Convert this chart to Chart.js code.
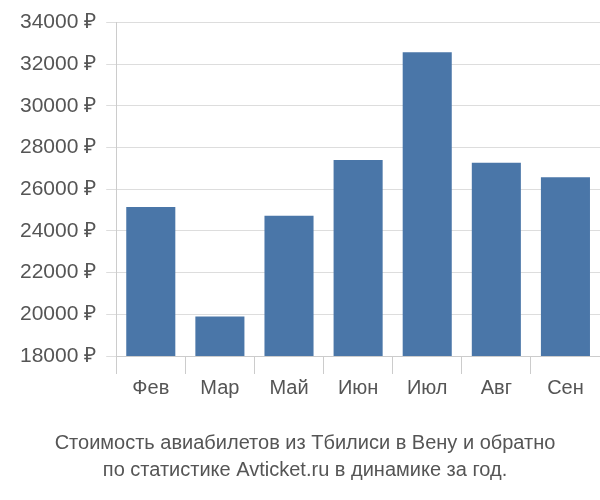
<!DOCTYPE html>
<html>
<head>
<meta charset="utf-8">
<script src="https://cdn.jsdelivr.net/npm/chart.js@4"></script>
<style>
  html, body { margin: 0; padding: 0; background: #fff; }
  #wrap { width: 600px; height: 500px; }
</style>
</head>
<body>
<div id="wrap"><canvas id="chart"></canvas></div>
<script>
// Данные графика
const months = ['Фев', 'Мар', 'Май', 'Июн', 'Июл', 'Авг', 'Сен'];
const prices = [25150, 19890, 24730, 27410, 32575, 27270, 26580];
const yTicks = [18000, 20000, 22000, 24000, 26000, 28000, 30000, 32000, 34000];

Chart.defaults.font.family = '"Liberation Sans", Arial, sans-serif';
Chart.defaults.color = '#555';

new Chart(document.getElementById('chart').getContext('2d'), {
    type: 'bar',
    data: {
        labels: months,
        datasets: [{
            data: prices,
            backgroundColor: '#4a76a8',
            barPercentage: 0.71,
            categoryPercentage: 1
        }]
    },
    options: {
        responsive: true,
        maintainAspectRatio: false,
        animation: false,
        layout: { padding: { top: 6, right: 0, left: 10, bottom: 16 } },
        plugins: {
            legend: { display: false },
            tooltip: { enabled: false },
            title: {
                display: true,
                position: 'bottom',
                text: ['Стоимость авиабилетов из Тбилиси в Вену и обратно', 'по статистике Avticket.ru в динамике за год.'],
                color: '#555',
                font: { size: 20, weight: 'normal', lineHeight: 1.35 },
                padding: { top: 28, bottom: 0 }
            }
        },
        scales: {
            x: {
                grid: { drawOnChartArea: false, tickLength: 18, color: '#ccc' },
                border: { color: '#ccc' },
                ticks: { font: { size: 20 }, padding: 2 }
            },
            y: {
                min: 18000,
                max: 34000,
                afterBuildTicks: axis => { axis.ticks = yTicks.map(v => ({ value: v })); },
                grid: { color: '#ddd', tickLength: 10 },
                border: { color: '#ccc' },
                ticks: {
                    font: { size: 21 },
                    padding: 10,
                    callback: v => v + ' ₽'
                }
            }
        }
    }
});
</script>
</body>
</html>
